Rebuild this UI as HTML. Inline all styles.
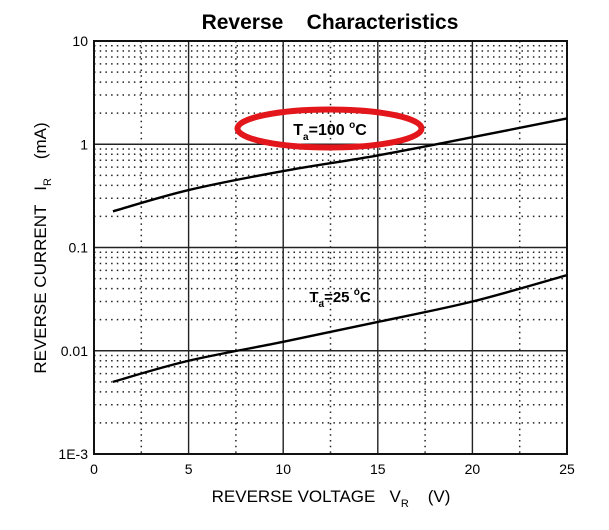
<!DOCTYPE html>
<html><head><meta charset="utf-8"><style>
body{margin:0;background:#fff}
svg{display:block;font-family:"Liberation Sans",Arial,sans-serif}
</style></head><body>
<svg id="chart" width="609" height="530" viewBox="0 0 609 530" xmlns="http://www.w3.org/2000/svg">
<text x="330" y="29" text-anchor="middle" font-size="21" font-weight="bold" xml:space="preserve">Reverse    Characteristics</text>
<g id="grid"></g>
<g id="ticks"></g>
<g id="curves"></g>
<text transform="translate(46,248) rotate(-90)" text-anchor="middle" font-size="17" xml:space="preserve">REVERSE CURRENT   I<tspan font-size="11" dy="5">R</tspan><tspan dy="-5">    (mA)</tspan></text>
<text x="331" y="502" text-anchor="middle" font-size="17" xml:space="preserve">REVERSE VOLTAGE   V<tspan font-size="11" dy="5">R</tspan><tspan dy="-5">    (V)</tspan></text>
<text x="330" y="135" text-anchor="middle" font-size="16" font-weight="bold">T<tspan font-size="10" dy="5">a</tspan><tspan dy="-5">=100 </tspan><tspan font-size="10" dy="-7">o</tspan><tspan dy="7">C</tspan></text>
<ellipse cx="329.5" cy="128.5" rx="92" ry="19" fill="none" stroke="#e3161b" stroke-width="6"/>
<text x="340" y="302" text-anchor="middle" font-size="15" font-weight="bold">T<tspan font-size="10" dy="5">a</tspan><tspan dy="-5">=25 </tspan><tspan font-size="10" dy="-7">o</tspan><tspan dy="7">C</tspan></text>
</svg>
<script>
const xTicks=[0,5,10,15,20,25];
const yTicks=[10,1,0.1,0.01,0.001];
const yTickLabels=["10","1","0.1","0.01","1E-3"];
const vr=[1,5,10,15,20,25];
const ir100=[0.224,0.36,0.55,0.78,1.17,1.78];
const ir25=[0.005,0.008,0.0122,0.019,0.030,0.054];
const NS="http://www.w3.org/2000/svg";
const L=94,R=567,T=41,B=454;
function sx(v){return L+(v-0)/(25-0)*(R-L);}
function sy(v){return B-(Math.log10(v)+3)/4*(B-T);}
function mk(tag,attrs,parent){const e=document.createElementNS(NS,tag);for(const k in attrs)e.setAttribute(k,attrs[k]);parent.appendChild(e);return e;}
const grid=document.getElementById('grid'),ticks=document.getElementById('ticks'),curves=document.getElementById('curves');
for(let d=-3;d<1;d++){for(let m=2;m<=9;m++){const y=sy(m*Math.pow(10,d));
const l=mk('line',{x1:L,x2:R,y1:y,y2:y,stroke:'#222','stroke-width':1.5,'stroke-dasharray':'1.5 4.2'},grid);

}}
for(let i=0;i<xTicks.length-1;i++){const x=sx((xTicks[i]+xTicks[i+1])/2);
const l=mk('line',{x1:x,x2:x,y1:T,y2:B,stroke:'#222','stroke-width':1.5,'stroke-dasharray':'1.5 4.2'},grid);

}
xTicks.forEach(v=>{const x=sx(v);
const l=mk('line',{x1:x,x2:x,y1:T,y2:B,stroke:'#222','stroke-width':1.4},grid);


const t=mk('text',{x:x,y:B+20,'text-anchor':'middle','font-size':14},ticks);t.textContent=String(v);

});
yTicks.forEach((v,i)=>{const y=sy(v);
const l=mk('line',{x1:L,x2:R,y1:y,y2:y,stroke:'#222','stroke-width':1.4},grid);


const t=mk('text',{x:L-6,y:y+5,'text-anchor':'end','font-size':14},ticks);t.textContent=yTickLabels[i];

});
const fr=mk('rect',{x:L,y:T,width:R-L,height:B-T,fill:'none',stroke:'#111','stroke-width':2},grid);


function curve(vals,name){
const pts=vr.map((v,i)=>[sx(v),sy(vals[i])]);
let d='M'+pts[0][0]+','+pts[0][1];
for(let i=1;i<pts.length;i++){const p0=pts[Math.max(0,i-2)],p1=pts[i-1],p2=pts[i],p3=pts[Math.min(pts.length-1,i+1)];
const c1x=p1[0]+(p2[0]-p0[0])/6,c1y=p1[1]+(p2[1]-p0[1])/6,c2x=p2[0]-(p3[0]-p1[0])/6,c2y=p2[1]-(p3[1]-p1[1])/6;
d+=` C${c1x},${c1y} ${c2x},${c2y} ${p2[0]},${p2[1]}`;}
const p=mk('path',{d:d,fill:'none',stroke:'#000','stroke-width':2.4},curves);

}
curve(ir100,'curve-100c');
curve(ir25,'curve-25c');
</script>
</body></html>
